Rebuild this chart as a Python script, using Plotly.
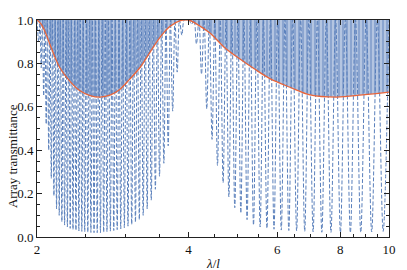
import plotly.graph_objects as go

# ---- data ----
# wavelength positions (lambda/l) of the transmission dips
dip_lambda = [9.737, 9.239, 8.789, 8.381, 8.009, 7.669, 7.356, 7.068, 6.802, 6.555,
              6.325, 6.111, 5.911, 5.723, 5.548, 5.382, 5.226, 5.079, 4.940, 4.809,
              4.684, 4.565, 4.453, 4.346, 4.243, 4.146, 4.053, 3.964, 3.879, 3.797,
              3.719, 3.644, 3.572, 3.502, 3.436, 3.372, 3.310, 3.250, 3.193, 3.137,
              3.084, 3.032, 2.982, 2.933, 2.886, 2.841, 2.797, 2.754, 2.713, 2.673,
              2.634, 2.596, 2.559, 2.523, 2.488, 2.455, 2.422, 2.390, 2.358, 2.328,
              2.298, 2.269, 2.241, 2.214, 2.187, 2.161, 2.135, 2.110, 2.086, 2.062,
              2.039, 2.016]
# transmittance at the bottom of each dip
dip_T = [0.026, 0.023, 0.021, 0.020, 0.020, 0.021, 0.022, 0.024, 0.026, 0.028,
         0.030, 0.032, 0.036, 0.040, 0.046, 0.055, 0.080, 0.110, 0.135, 0.185,
         0.250, 0.330, 0.450, 0.590, 0.750, 0.890, 0.980, 1.000, 0.930, 0.760,
         0.580, 0.420, 0.340, 0.280, 0.220, 0.170, 0.130, 0.100, 0.080, 0.068,
         0.058, 0.050, 0.043, 0.038, 0.034, 0.030, 0.027, 0.024, 0.022, 0.020,
         0.020, 0.020, 0.021, 0.022, 0.024, 0.026, 0.028, 0.031, 0.035, 0.040,
         0.047, 0.055, 0.070, 0.100, 0.130, 0.190, 0.270, 0.400, 0.520, 0.650,
         0.780, 0.900]
# positions of the maxima between dips (transmittance 1)
peak_lambda = [10.0, 9.481, 9.008, 8.580, 8.191, 7.835, 7.509, 7.209, 6.932, 6.676,
               6.438, 6.216, 6.009, 5.816, 5.634, 5.464, 5.303, 5.152, 5.009, 4.874,
               4.745, 4.624, 4.508, 4.398, 4.294, 4.194, 4.099, 4.008, 3.921, 3.837,
               3.758, 3.681, 3.607, 3.537, 3.469, 3.403, 3.340, 3.280, 3.221, 3.165,
               3.110, 3.057, 3.007, 2.957, 2.910, 2.863, 2.819, 2.775, 2.733, 2.693,
               2.653, 2.615, 2.577, 2.541, 2.506, 2.471, 2.438, 2.406, 2.374, 2.343,
               2.313, 2.284, 2.255, 2.227, 2.200, 2.174, 2.148, 2.123, 2.098, 2.074,
               2.050, 2.027, 2.0]
PEAK_T = 1.0

# red envelope curve
env_lambda = [2.0, 2.04, 2.08, 2.12, 2.17, 2.22, 2.33, 2.43, 2.55, 2.67, 2.8, 2.92,
              3.05, 3.2, 3.35, 3.51, 3.67, 3.85, 4.0, 4.16, 4.41, 4.7, 5.06, 5.4,
              5.8, 6.36, 6.97, 7.87, 8.86, 10.0]
env_T = [1.0, 0.98, 0.94, 0.89, 0.83, 0.78, 0.715, 0.675, 0.652, 0.645, 0.655, 0.68,
         0.725, 0.78, 0.85, 0.92, 0.97, 0.997, 1.0, 0.98, 0.94, 0.876, 0.82, 0.775,
         0.73, 0.69, 0.655, 0.645, 0.655, 0.668]

x_ticks = [2, 4, 6, 8, 10]
x_minor = [2.5, 3, 3.5, 4.5, 5, 5.5, 6.5, 7, 7.5, 8.5, 9, 9.5]
y_ticks = [0.0, 0.2, 0.4, 0.6, 0.8, 1.0]

BLUE = "#5A80BC"
RED = "#E8643A"

# merge peaks and dips into one ordered curve
pts = [(l, PEAK_T) for l in peak_lambda] + list(zip(dip_lambda, dip_T))
pts.sort(key=lambda p: p[0])
curve_x = [p[0] for p in pts]
curve_y = [p[1] for p in pts]

fig = go.Figure()
# band of fast oscillations between the envelope and 1
fig.add_trace(go.Scatter(x=[env_lambda[0], env_lambda[-1]], y=[1.0, 1.0], mode="lines",
                         line=dict(width=0), showlegend=False, hoverinfo="skip"))
fig.add_trace(go.Scatter(x=env_lambda, y=env_T, mode="lines", fill="tonexty",
                         line=dict(width=0, shape="spline"),
                         fillpattern=dict(shape="|", size=4, solidity=0.65,
                                          fgcolor="#4F78B8", bgcolor="rgba(90,128,188,0.35)"),
                         showlegend=False, hoverinfo="skip"))
fig.add_trace(go.Scatter(x=curve_x, y=curve_y, mode="lines",
                         line=dict(color=BLUE, width=1, dash="4px,2px", shape="spline",
                                   smoothing=1.0),
                         showlegend=False))
fig.add_trace(go.Scatter(x=env_lambda, y=env_T, mode="lines",
                         line=dict(color=RED, width=1.3, shape="spline"),
                         showlegend=False))

font = dict(family="Liberation Serif, Times New Roman, serif", size=13, color="#111")

fig.update_xaxes(type="log", range=[0.30103, 1.0], tickvals=x_ticks,
                 ticktext=[str(v) for v in x_ticks], ticks="inside", ticklen=5,
                 tickcolor="#222", showline=True, linecolor="#222", linewidth=1,
                 mirror="ticks", showgrid=False, zeroline=False, tickfont=font,
                 minor=dict(tickvals=x_minor, ticks="inside", ticklen=3, tickcolor="#222",
                            showgrid=False))
fig.update_yaxes(range=[0, 1.0], tickvals=y_ticks, tickformat=".1f", ticks="inside",
                 ticklen=5, tickcolor="#222", showline=True, linecolor="#222",
                 linewidth=1, mirror="ticks", showgrid=False, zeroline=False,
                 tickfont=font,
                 minor=dict(dtick=0.05, ticks="inside", ticklen=3, tickcolor="#222",
                            showgrid=False))

fig.add_annotation(text="Array transmittance", textangle=-90, xref="paper", yref="paper",
                   x=-0.071, y=0.373, showarrow=False, font=font,
                   xanchor="center", yanchor="middle")
fig.add_annotation(text="<i>λ</i>/<i>l</i>", xref="paper", yref="paper",
                   x=0.5, y=-0.12, showarrow=False, font=font,
                   xanchor="center", yanchor="middle")

fig.update_layout(width=407, height=270, margin=dict(l=37, r=18, t=20, b=33),
                  paper_bgcolor="white", plot_bgcolor="white")

fig.write_html("out.html", post_script="document.body.style.margin='0';",
               config={"displayModeBar": False})
